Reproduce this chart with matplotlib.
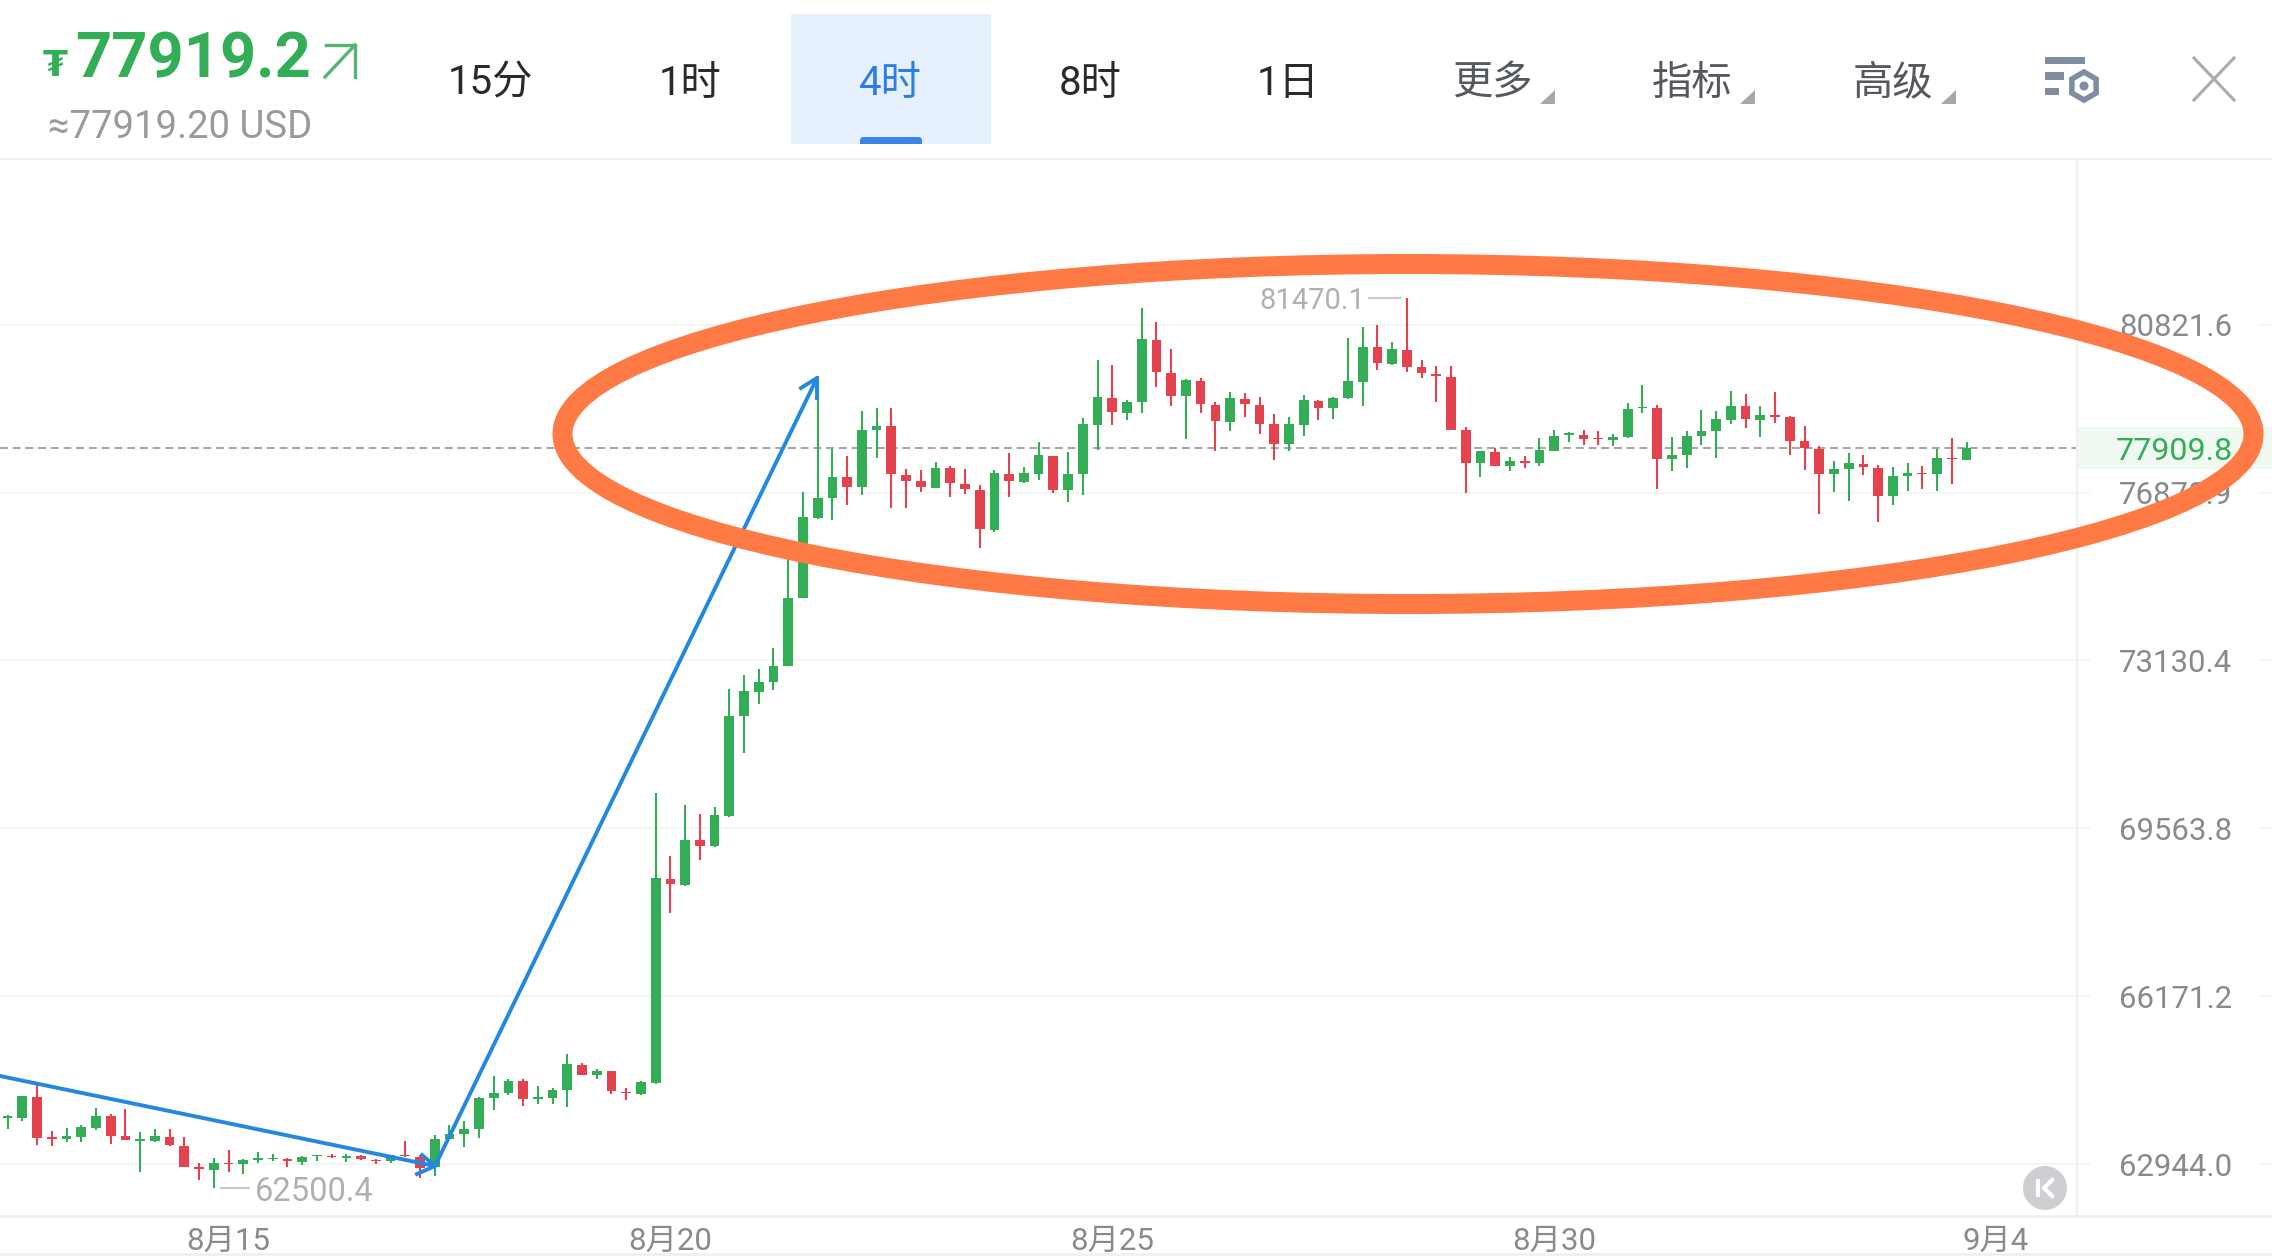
'''
BTC 4h candle chart, app screenshot style.
'''

import matplotlib
matplotlib.use("Agg")
import matplotlib.pyplot as plt
from matplotlib.patches import Ellipse, Rectangle, Polygon, Circle, RegularPolygon, FancyBboxPatch

plt.rcParams['font.family'] = ['Roboto', 'Noto Sans CJK SC', 'DejaVu Sans']

opens = [63803, 63816, 64219, 63457, 63406, 63457, 63624, 63841, 63464, 63380,
         63380, 63457, 63291, 62881, 62830, 62971, 62939, 63016, 63035, 63041,
         62984, 63086, 63092, 63048, 63092, 63022, 62996, 63105, 63073, 62894,
         63419, 63502, 63611, 64187, 64289, 64520, 64180, 64187, 64340, 64833,
         64628, 64712, 64308, 64276, 64487, 68529, 68406, 69315, 69191, 69811,
         71931, 72451, 72657, 73017, 74510, 76308, 76746, 77223, 76997, 78326,
         78412, 77285, 77137, 76988, 77434, 77074, 76941, 76033, 77293, 77121,
         77309, 77723, 76926, 77301, 78451, 79084, 78732, 78967, 80453, 79671,
         79115, 79475, 78912, 78521, 79061, 78904, 78458, 77989, 78451, 79006,
         78826, 79068, 79459, 80273, 79882, 80210, 79796, 79647, 79577, 78326,
         77559, 77817, 77489, 77598, 77567, 77841, 78216, 78216, 78146, 78099,
         78161, 78834, 78849, 77645, 77739, 78185, 78302, 78560, 78889, 78568,
         78670, 78623, 78067, 77888, 77293, 77411, 77544, 77450, 76790, 77254,
         77325, 77301, 77684, 77637]
closes = [63841, 64225, 63432, 63419, 63470, 63636, 63848, 63470, 63393, 63412,
          63470, 63297, 62894, 62843, 62958, 62939, 63016, 63048, 63060, 62996,
          63073, 63105, 63067, 63099, 63041, 62996, 63112, 63092, 62862, 63419,
          63502, 63611, 64193, 64296, 64526, 64174, 64206, 64347, 64840, 64641,
          64712, 64321, 64289, 64500, 68549, 68426, 69325, 69202, 69833, 71931,
          72463, 72668, 73017, 74510, 76330, 76760, 77239, 77004, 78333, 78419,
          77301, 77153, 77004, 77434, 77090, 76949, 76043, 77317, 77137, 77317,
          77739, 76926, 77309, 78458, 79100, 78748, 78982, 80468, 79686, 79131,
          79491, 78920, 78537, 79068, 78920, 78474, 78005, 78458, 79014, 78834,
          79084, 79467, 80288, 79905, 80226, 79804, 79663, 79600, 78333, 77559,
          77825, 77497, 77606, 77567, 77848, 78177, 78255, 78114, 78107, 78169,
          78818, 78865, 77645, 77747, 78193, 78310, 78576, 78896, 78576, 78685,
          78623, 78075, 77895, 77301, 77418, 77551, 77465, 76790, 77262, 77317,
          77293, 77684, 77645, 77911]
highs = [63867, 64225, 64443, 63560, 63630, 63688, 63995, 63886, 63982, 63547,
         63611, 63598, 63457, 62958, 63048, 63214, 63035, 63163, 63131, 63048,
         63099, 63118, 63137, 63124, 63118, 63035, 63118, 63374, 63118, 63496,
         63688, 63758, 64206, 64609, 64558, 64552, 64430, 64392, 65032, 64872,
         64756, 64718, 64392, 64520, 70289, 68995, 70050, 69865, 69995, 72506,
         72821, 72951, 73397, 75397, 76887, 79585, 77880, 77716, 78763, 78849,
         78834, 77426, 77395, 77575, 77481, 77426, 77043, 77395, 77778, 77465,
         78036, 77723, 77802, 78599, 79983, 79843, 79022, 81227, 80891, 80226,
         79522, 79553, 78990, 79209, 79194, 79108, 78693, 78638, 79139, 79014,
         79092, 80500, 80758, 80820, 80398, 81470.1, 79983, 79819, 79819, 78388,
         77825, 77903, 77700, 77723, 78146, 78318, 78286, 78318, 78294, 78232,
         78951, 79389, 78912, 78169, 78302, 78795, 78763, 79233, 79178, 78889,
         79209, 78654, 78412, 77958, 77606, 77778, 77739, 77520, 77473, 77551,
         77489, 77880, 78146, 78036]
lows = [63598, 63752, 63297, 63291, 63355, 63355, 63585, 63329, 63393, 62798,
        63355, 63291, 62894, 62651, 62500.4, 62792, 62766, 62971, 62996, 62894,
        62920, 63009, 63048, 62977, 63016, 62939, 62958, 63073, 62676, 62721,
        63406, 63265, 63425, 63969, 64257, 64033, 64072, 64072, 64027, 64635,
        64552, 64270, 64155, 64244, 64470, 67837, 68385, 68902, 69181, 69788,
        71136, 72191, 72495, 73017, 74510, 76285, 76256, 76597, 76827, 77676,
        76530, 76530, 76894, 76973, 76783, 76849, 75617, 75988, 76775, 77090,
        77176, 76865, 76664, 76820, 77856, 78451, 78545, 78709, 79327, 78873,
        78122, 78709, 77833, 78294, 78631, 78232, 77622, 77841, 78177, 78545,
        78591, 79045, 78896, 79725, 79858, 79694, 79553, 78990, 78318, 76864,
        77223, 77489, 77372, 77450, 77489, 77825, 78036, 77981, 77981, 77942,
        78146, 78709, 76953, 77364, 77434, 77974, 77684, 78466, 78380, 78169,
        78490, 77731, 77395, 76382, 76879, 76693, 77278, 76211, 76590, 76916,
        76968, 76924, 77074, 77637]

price_ticks = [62944.0, 66171.2, 69563.8, 73130.4, 76870.9, 80821.6]
date_ticks = [15, 45, 75, 105, 135]
date_labels = ['8月15', '8月20', '8月25', '8月30', '9月4']
last_price = 77909.8
high_price = 81470.1
low_price = 62500.4
tabs = ['15分', '1时', '4时', '8时', '1日']
tab_pos = [490, 690, 890, 1090, 1288]
menus = ['更多', '指标', '高级']
menu_pos = [1492, 1692, 1893]

GREEN = '#34AD57'
RED = '#E5424F'
GRID = '#F1F3F5'
LABEL = '#8A8A8A'

fig = plt.figure(figsize=(22.72, 12.56), dpi=100, facecolor='white')

# Candles
ax = fig.add_axes([0, 40 / 1256, 2077 / 2272, 1057 / 1256])
ax.set_yscale('log')
for i in range(len(opens)):
    up = closes[i] >= opens[i]
    color = GREEN if up else RED
    ax.vlines(i, lows[i], highs[i], color=color, lw=1.5, zorder=3)
    ax.bar(i, abs(closes[i] - opens[i]), bottom=min(opens[i], closes[i]),
           width=0.66, color=color, lw=0, zorder=3)

ax.set_xlim(-0.516, 140.5)
ax.set_ylim(61977, 84906)

ax.set_yticks(price_ticks)
ax.set_yticklabels(['%.1f' % p for p in price_ticks])
ax.minorticks_off()
ax.yaxis.tick_right()
ax.tick_params(axis='y', length=9, width=1.2, color=GRID, pad=62, labelsize=22.4, labelcolor=LABEL)
for label in ax.get_yticklabels():
    label.set_ha('center')
ax.grid(axis='y', color=GRID, lw=1.2, zorder=0)
ax.hlines(price_ticks, 2258 / 2077, 1.0 * 2272 / 2077, color=GRID, lw=1.2,
          transform=ax.get_yaxis_transform(), clip_on=False)

ax.set_xticks(date_ticks)
ax.set_xticklabels(date_labels)
ax.tick_params(axis='x', length=0, pad=7.5, labelsize=22.5, labelcolor=LABEL)

ax.axhline(last_price, color='#A8A8A8', lw=1.5, ls=(0, (3.8, 2.3)), zorder=2)

for s in ax.spines.values():
    s.set_visible(False)

# Overlay in screen pixels: header, drawn arrows, ellipse
ov = fig.add_axes([0, 0, 1, 1], facecolor='none')
ov.set_xlim(0, 2272)
ov.set_ylim(1256, 0)
ov.axis('off')

ov.plot([0, 2272], [159, 159], color='#F0F0F0', lw=1.5)
ov.plot([0, 2272], [1216, 1216], color='#F0F0F0', lw=2)
ov.plot([0, 2272], [1254, 1254], color='#F0F0F0', lw=2)
ov.plot([2077, 2077], [159, 1216], color='#F0F0F0', lw=1.5)

# price tag
ov.add_patch(Rectangle((2077, 427), 195, 42, color='#EFF8F1', lw=0))
ov.text(2174, 451, '%.1f' % last_price, color=GREEN, fontsize=23.2, ha='center', va='center')

# high / low marks
ov.text(1365, 301, '%.1f' % high_price, color='#B0B0B0', fontsize=21, ha='right', va='center')
ov.plot([1369, 1400], [298, 298], color='#C8C8C8', lw=1.5)
ov.text(255, 1192, '%.1f' % low_price, color='#B0B0B0', fontsize=23.5, ha='left', va='center')
ov.plot([221, 249], [1188, 1188], color='#C8C8C8', lw=1.5)

# header price
ov.text(43, 66, '₮', color=GREEN, fontsize=26, fontweight='bold', ha='left', va='center',
        family=['DejaVu Sans'])
ov.text(75, 61, '77919.2', color=GREEN, fontsize=45.5, fontweight='bold', ha='left', va='center')
ov.plot([326, 355, 355], [45, 45, 77], color='#55B374', lw=2.4)
ov.plot([325, 355], [77, 45], color='#55B374', lw=2.4)
ov.text(48, 128, '≈77919.20 USD', color='#9A9A9A', fontsize=27.5, ha='left', va='center')

# tabs
ov.add_patch(Rectangle((791, 14), 200, 130, color='#E6F0FC', lw=0))
ov.add_patch(FancyBboxPatch((860, 137), 62, 10, boxstyle='round,pad=0,rounding_size=4',
                            color='#3B83E6', lw=0, clip_on=True))
ov.add_patch(Rectangle((791, 144), 200, 6, color='white', lw=0))
for name, x in zip(tabs, tab_pos):
    ov.text(x, 83, name, color='#2B7DE9' if name == '4时' else '#2A2A2E', fontsize=29, ha='center', va='center')
for name, x in zip(menus, menu_pos):
    ov.text(x, 83, name, color='#55585E', fontsize=29, ha='center', va='center')
    ov.add_patch(Polygon([[x + 48, 104], [x + 63, 104], [x + 63, 90]], color='#A8A8A8', lw=0))

# settings icon
ICON = '#7F8DA3'
ov.add_patch(Rectangle((2045, 57), 40, 7, color=ICON, lw=0))
ov.add_patch(Rectangle((2045, 72), 19, 8, color=ICON, lw=0))
ov.add_patch(Rectangle((2045, 88), 14, 7, color=ICON, lw=0))
ov.add_patch(RegularPolygon((2084, 86), 6, radius=14, facecolor='white', edgecolor=ICON, lw=4))
ov.add_patch(Circle((2084, 86), 4.5, color=ICON, lw=0))

# close
ov.plot([2194, 2234], [58, 100], color='#ABABAB', lw=2.2)
ov.plot([2234, 2194], [58, 100], color='#ABABAB', lw=2.2)

# jump to latest button
ov.add_patch(Circle((2045, 1188), 22, color='#CDCFD2', lw=0))
ov.plot([2038, 2038], [1181, 1195], color='white', lw=3)
ov.plot([2052, 2044, 2052], [1180, 1188, 1196], color='white', lw=3)

# hand drawn blue arrows
BLUE = '#2288E0'
ov.plot([0, 435], [1076, 1166], color=BLUE, lw=2.8, solid_capstyle='round')
ov.plot([422, 435, 417], [1155, 1166, 1174], color=BLUE, lw=2.8)
ov.plot([435, 817], [1166, 378], color=BLUE, lw=2.8, solid_capstyle='round')
ov.plot([801, 817, 817], [388, 378, 398], color=BLUE, lw=2.8)

# orange ellipse on top of everything
ov.add_patch(Ellipse((1408, 434), 1691, 340, fill=False, edgecolor='#FF7A45', lw=14.4, zorder=10))

fig.savefig('out.png', dpi=100)
